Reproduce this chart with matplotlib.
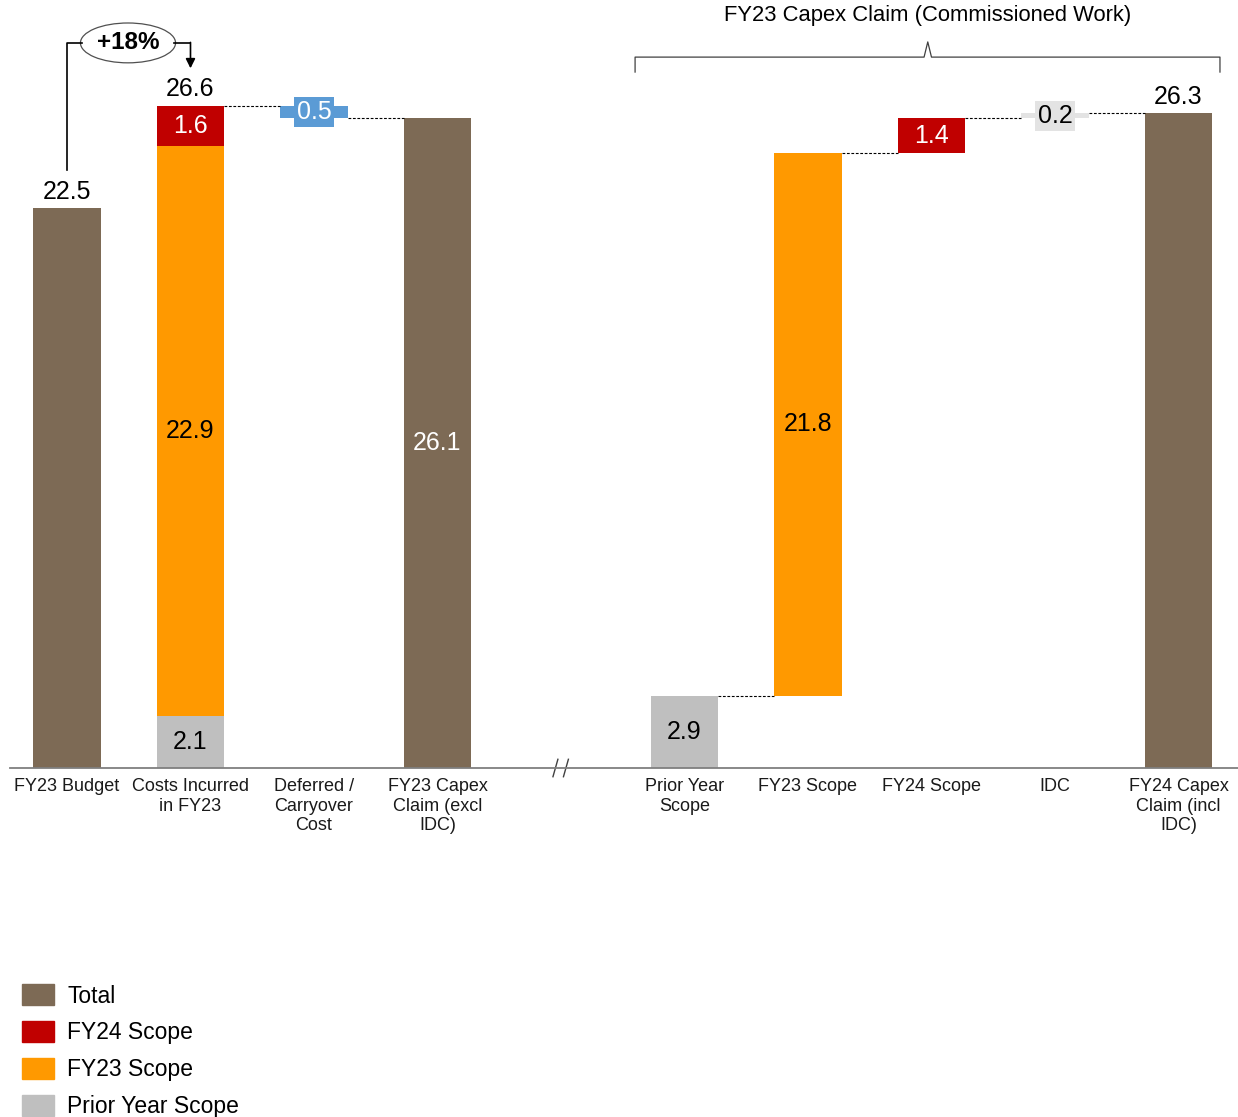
import matplotlib.pyplot as plt
from matplotlib.patches import Patch, Ellipse

plt.rcParams["font.family"] = ["Liberation Sans", "DejaVu Sans"]

# ===============================
# DATA
# ===============================
categories = [
    "FY23 Budget",
    "Costs Incurred\nin FY23",
    "Deferred /\nCarryover\nCost",
    "FY23 Capex\nClaim (excl\nIDC)",
    "Prior Year\nScope",
    "FY23 Scope",
    "FY24 Scope",
    "IDC",
    "FY24 Capex\nClaim (incl\nIDC)",
]
positions = [0, 1, 2, 3, 5, 6, 7, 8, 9]

fy23_budget = 22.5
incurred_prior = 2.1
incurred_fy23 = 22.9
incurred_fy24 = 1.6
deferred = -0.5
claim_prior = 2.9
claim_fy23 = 21.8
claim_fy24 = 1.4
idc = 0.2

legend_labels = ["Total", "FY24 Scope", "FY23 Scope", "Prior Year Scope"]

# colours
c_total = "#7D6A55"
c_fy24 = "#C00000"
c_fy23 = "#FF9900"
c_prior = "#BFBFBF"
c_def = "#5B9BD5"
c_idc = "#E3E3E3"

# ===============================
# DERIVED TOTALS
# ===============================
incurred_total = incurred_prior + incurred_fy23 + incurred_fy24
claim_excl = incurred_total + deferred
claim_incl = claim_prior + claim_fy23 + claim_fy24 + idc
growth = (incurred_total / fy23_budget - 1) * 100

# ===============================
# FIGURE
# ===============================
fig = plt.figure(figsize=(12.38, 11.17), dpi=100)
ax = fig.add_axes([10 / 1238, (1117 - 768) / 1117, 1228 / 1238, 768 / 1117])
ax.set_xlim(-0.4615, 9.482)
ax.set_ylim(0, 768 / 24.9)
w = 0.55


def bar(x, h, b, color, label=None, txt_color="black", box=None):
    ax.bar(x, h, w, bottom=b, color=color, linewidth=0)
    if label is not None:
        kw = {}
        if box:
            kw["bbox"] = dict(boxstyle="square,pad=0.12", fc=box, ec="none")
        ax.text(x, b + h / 2, label, ha="center", va="center",
                fontsize=18, color=txt_color, **kw)


def top_label(x, v):
    ax.annotate(f"{v:.1f}", (x, v), xytext=(0, 3), textcoords="offset points",
                ha="center", va="bottom", fontsize=18)


def connector(x0, x1, y):
    ax.plot([x0 + w / 2, x1 - w / 2], [y, y], color="black", lw=0.8,
            linestyle=(0, (2.5, 1.5)))


# FY23 budget
bar(0, fy23_budget, 0, c_total)
top_label(0, fy23_budget)

# Costs incurred (stacked)
bar(1, incurred_prior, 0, c_prior, f"{incurred_prior:.1f}")
bar(1, incurred_fy23, incurred_prior, c_fy23, f"{incurred_fy23:.1f}")
bar(1, incurred_fy24, incurred_prior + incurred_fy23, c_fy24,
    f"{incurred_fy24:.1f}", "white")
top_label(1, incurred_total)

# Deferred / carryover
bar(2, deferred, incurred_total, c_def, f"{abs(deferred):.1f}", "white", box=c_def)
connector(1, 2, incurred_total)

# FY23 claim excl IDC
bar(3, claim_excl, 0, c_total, f"{claim_excl:.1f}", "white")
connector(2, 3, claim_excl)

# Right hand waterfall
bar(5, claim_prior, 0, c_prior, f"{claim_prior:.1f}")
lvl = claim_prior
bar(6, claim_fy23, lvl, c_fy23, f"{claim_fy23:.1f}")
connector(5, 6, lvl)
lvl += claim_fy23
bar(7, claim_fy24, lvl, c_fy24, f"{claim_fy24:.1f}", "white")
connector(6, 7, lvl)
lvl += claim_fy24
bar(8, idc, lvl, c_idc, f"{idc:.1f}", box=c_idc)
connector(7, 8, lvl)
lvl += idc
bar(9, claim_incl, 0, c_total)
connector(8, 9, lvl)
top_label(9, claim_incl)

# ===============================
# AXES STYLE
# ===============================
for s in ["top", "right", "left"]:
    ax.spines[s].set_visible(False)
ax.spines["bottom"].set_color("#7F7F7F")
ax.spines["bottom"].set_linewidth(1.3)
ax.set_yticks([])
ax.set_xticks(positions)
ax.set_xticklabels(categories, fontsize=13, color="#1A1A1A", linespacing=1.22)
ax.tick_params(axis="x", length=0, pad=7)

# axis break marks
for dx in [-0.045, 0.04]:
    ax.plot([4 + dx - 0.02, 4 + dx + 0.02], [-0.35, 0.35], color="#404040",
            lw=1.0, clip_on=False)

# ===============================
# +18% ANNOTATION
# ===============================
ya = 29.12
ax.plot([0, 0, 0.12], [fy23_budget + 1.5, ya, ya], color="black", lw=1.2,
        clip_on=False)
ax.plot([0.87, 1.0], [ya, ya], color="black", lw=1.2, clip_on=False)
ax.annotate("", xy=(1.0, incurred_total + 1.5), xytext=(1.0, ya + 0.02),
            arrowprops=dict(arrowstyle="-|>", color="black", lw=1.2,
                            mutation_scale=14, shrinkA=0, shrinkB=0),
            annotation_clip=False)
ax.add_patch(Ellipse((0.494, ya), 0.77, 1.6, fc="white", ec="#505050",
                     lw=0.9, clip_on=False))
ax.text(0.494, ya, f"+{growth:.0f}%", ha="center", va="center", fontsize=17.5,
        fontweight="bold")

# ===============================
# BRACE + TITLE
# ===============================
xl, xr, xm = 4.6, 9.336, 6.97
ax.plot([xl, xl, xm - 0.03, xm, xm + 0.03, xr, xr],
        [27.95, 28.55, 28.55, 29.16, 28.55, 28.55, 27.95],
        color="#404040", lw=0.9, clip_on=False)
ax.text(xm, 30.24, "FY23 Capex Claim (Commissioned Work)", ha="center",
        va="center", fontsize=15.8)

# ===============================
# LEGEND
# ===============================
handles = [Patch(color=c) for c in [c_total, c_fy24, c_fy23, c_prior]]
fig.legend(handles, legend_labels, loc="lower left",
           bbox_to_anchor=(22 / 1238, -0.001), frameon=False, fontsize=16.5,
           handlelength=1.4, handleheight=1.0, handletextpad=0.57,
           labelspacing=0.6, borderpad=0, borderaxespad=0)

plt.savefig("out.png", dpi=100)
